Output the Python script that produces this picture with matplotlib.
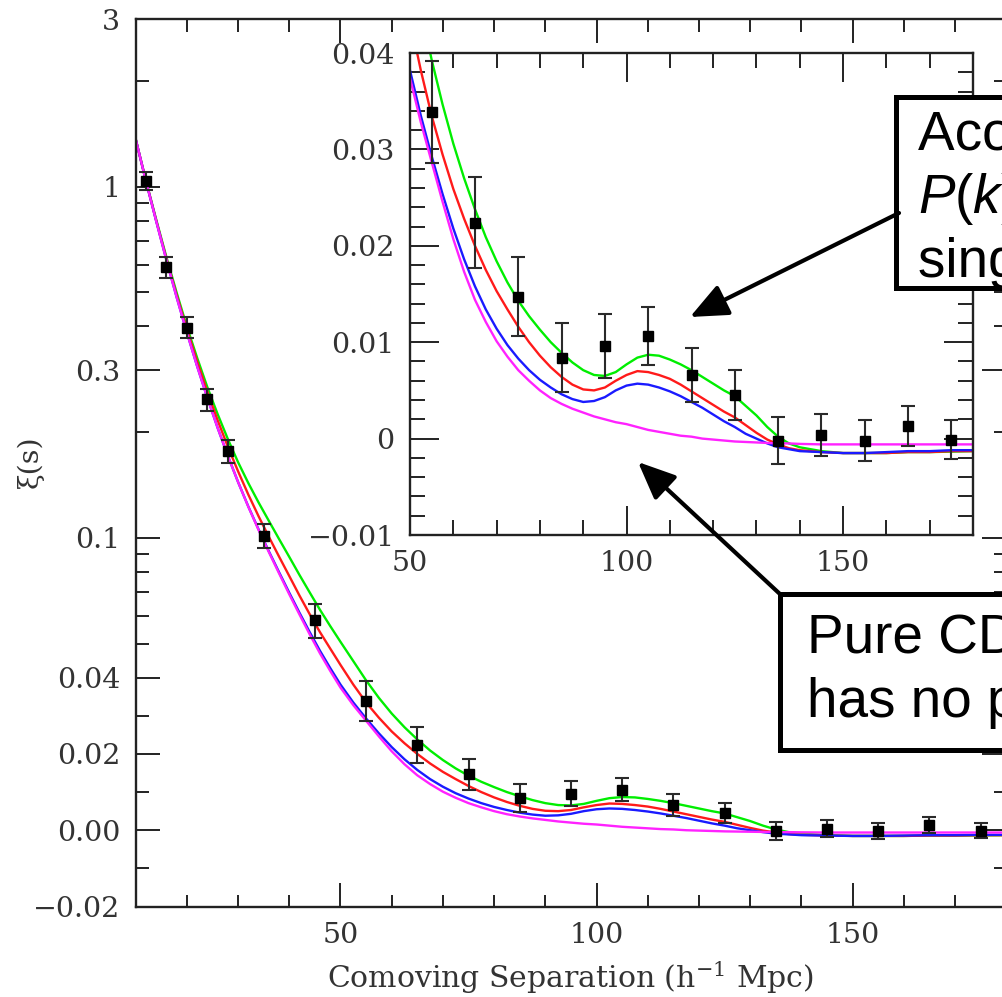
import numpy as np
import matplotlib
matplotlib.use("Agg")
import matplotlib.pyplot as plt
from matplotlib.patches import Rectangle
from matplotlib.ticker import FixedLocator, FixedFormatter, MultipleLocator

# ---------------- data ----------------
# Redshift-space correlation function of the LRG sample
sep_bins = [12, 16, 20, 24, 28, 35, 45, 55, 65, 75, 85, 95, 105, 115, 125,
            135, 145, 155, 165, 175]
xi_obs = [1.039, 0.589, 0.397, 0.248, 0.177, 0.1015, 0.0584, 0.0339, 0.0224,
          0.0147, 0.0084, 0.0096, 0.0106, 0.0066, 0.0045, -0.0002, 0.0004,
          -0.0002, 0.0013, -0.0001]
xi_err = [0.062, 0.040, 0.027, 0.018, 0.0135, 0.0082, 0.0065, 0.0053, 0.0047,
          0.0041, 0.0036, 0.0033, 0.0030, 0.0028, 0.0026, 0.0024, 0.0022,
          0.0021, 0.0021, 0.0020]

# Model curves sampled in separation
model_sep = [10, 12, 14, 16, 18, 20, 22, 24, 26, 28, 30, 32, 34, 36, 38, 40,
             42, 44, 46, 48,
             50, 52.5, 55, 57.5, 60, 62.5, 65, 67.5, 70, 72.5, 75, 77.5, 80,
             82.5, 85, 87.5, 90, 92.5, 95, 97.5, 100, 102.5, 105, 107.5, 110,
             112.5, 115, 117.5, 120, 122.5, 125, 127.5, 130, 132.5, 135,
             137.5, 140,
             145, 150, 155, 160, 165, 170, 175, 180]

xi_green = [1.368, 1.042, 0.8075, 0.631, 0.4996, 0.400, 0.326, 0.2688, 0.2254,
            0.1913, 0.1643, 0.1433, 0.1262, 0.1119, 0.0993, 0.0883, 0.0784,
            0.0699, 0.0624, 0.0561,
            0.0506, 0.0446, 0.0393, 0.0347, 0.0306, 0.0270, 0.0238, 0.0209,
            0.0184, 0.0162,
            0.0143, 0.0127, 0.0113, 0.0100, 0.0089, 0.0079, 0.0071, 0.0066,
            0.0065, 0.0069,
            0.0077, 0.0084, 0.0087, 0.0086, 0.0082, 0.0077, 0.0071, 0.0064,
            0.0057, 0.0050,
            0.0044, 0.0034, 0.0024, 0.0012, 0.0002, -0.0005, -0.0009,
            -0.0013, -0.0015, -0.0015, -0.0015, -0.0014, -0.0014, -0.00135,
            -0.0013]

xi_red = [1.368, 1.041, 0.8034, 0.625, 0.492, 0.393, 0.318, 0.2608, 0.2166,
          0.182, 0.1548, 0.1329, 0.1153, 0.1008, 0.0885, 0.0779, 0.0685,
          0.0606, 0.0539, 0.0484,
          0.0435, 0.0382, 0.0335, 0.0295, 0.0259, 0.0228, 0.0200, 0.0175,
          0.0153, 0.0134,
          0.0116, 0.0100, 0.0086, 0.0074, 0.0064, 0.0056, 0.0051, 0.0050,
          0.0053, 0.0060,
          0.0066, 0.0070, 0.0069, 0.0066, 0.0062, 0.0056, 0.0049, 0.0042,
          0.0035, 0.0028,
          0.0022, 0.0014, 0.0006, -0.0001, -0.0006, -0.0010, -0.0012,
          -0.0014, -0.0015, -0.0015, -0.0015, -0.0014, -0.0014, -0.0013,
          -0.0013]

xi_blue = [1.368, 1.039, 0.7995, 0.619, 0.485, 0.3845, 0.3085, 0.2506, 0.206,
           0.1714, 0.1443, 0.1229, 0.1058, 0.0917, 0.0799, 0.0698, 0.0612,
           0.0539, 0.0477, 0.0426,
           0.0382, 0.0335, 0.0293, 0.0254, 0.0218, 0.0186, 0.0158, 0.0134,
           0.0114, 0.0097,
           0.0083, 0.0071, 0.0061, 0.0053, 0.0046, 0.0041, 0.0038, 0.0039,
           0.0043, 0.0050,
           0.0055, 0.0057, 0.0056, 0.0053, 0.0049, 0.0044, 0.0038, 0.0032,
           0.0025, 0.0018,
           0.0012, 0.0005, 0.0000, -0.0005, -0.0009, -0.0011, -0.0013,
           -0.0014, -0.0015, -0.0015, -0.0014, -0.0013, -0.0013, -0.0012,
           -0.0012]

xi_magenta = [1.368, 1.039, 0.7995, 0.619, 0.485, 0.3845, 0.3085, 0.2506,
              0.206, 0.1714, 0.1443, 0.1227, 0.1054, 0.0912, 0.0793, 0.0691,
              0.0605, 0.0531, 0.0469, 0.0418,
              0.0374, 0.0328, 0.0287, 0.0246, 0.0207, 0.0173, 0.0144, 0.0121,
              0.0101, 0.0085,
              0.0071, 0.0060, 0.0050, 0.0042, 0.0036, 0.0031, 0.0027, 0.0023,
              0.0020, 0.0017,
              0.0015, 0.0012, 0.0009, 0.0007, 0.0005, 0.0003, 0.0002, 0.0000,
              -0.0001, -0.0002,
              -0.0003, -0.00035, -0.0004, -0.00045, -0.0005, -0.0005,
              -0.00055,
              -0.0006, -0.0006, -0.0006, -0.0006, -0.0006, -0.0006, -0.0006,
              -0.0006]

main_yticks = [-0.02, 0.0, 0.02, 0.04, 0.1, 0.3, 1, 3]
main_yticklabels = ["\u22120.02", "0.00", "0.02", "0.04", "0.1", "0.3", "1", "3"]
main_yminor = [-0.01, 0.01, 0.03, 0.05, 0.06, 0.07, 0.08, 0.09, 0.2, 0.4,
               0.5, 0.6, 0.7, 0.8, 0.9, 2]
inset_yticks = [-0.01, 0.0, 0.01, 0.02, 0.03, 0.04]
inset_yticklabels = ["\u22120.01", "0", "0.01", "0.02", "0.03", "0.04"]

# ---------------- styling ----------------
W, H = 1003, 997
plt.rcParams["font.family"] = ["DejaVu Serif"]
plt.rcParams["mathtext.fontset"] = "dejavuserif"
TICK_FS = 20.5

fig = plt.figure(figsize=(W / 100, H / 100), dpi=100)

Y0 = 0.04  # linear below this value, logarithmic above (C1 join)


def fwd(y):
    y = np.asarray(y, dtype=float)
    return np.where(y < Y0, y / Y0, 1.0 + np.log(np.maximum(y, Y0) / Y0))


def inv(u):
    u = np.asarray(u, dtype=float)
    return np.where(u < 1.0, u * Y0, Y0 * np.exp(np.maximum(u, 1.0) - 1.0))


def px_axes(left, top, right, bottom):
    return [left / W, 1 - bottom / H, (right - left) / W, (bottom - top) / H]


def style_ticks(ax, major_len, minor_len):
    ax.tick_params(which="both", direction="in", top=True, right=True,
                   width=1.4, colors="#222222", labelsize=TICK_FS,
                   labelcolor="#333333")
    ax.tick_params(which="major", length=major_len, pad=11)
    ax.tick_params(which="minor", length=minor_len)
    for s in ax.spines.values():
        s.set_linewidth(1.7)
        s.set_color("#222222")


curve_specs = [(xi_green, "#00ee00"), (xi_red, "#ff1a1a"),
               (xi_blue, "#1a1aff"), (xi_magenta, "#ff22ff")]

err_style = dict(fmt="s", ms=6.8, mfc="black", mec="black", ecolor="#2a2a2a",
                 elinewidth=1.5, capsize=5, capthick=1.5, zorder=5)

# ---------------- main panel ----------------
ax = fig.add_axes(px_axes(135.6, 19.0, 1006.3, 906.5))
ax.set_yscale("function", functions=(fwd, inv))
for ys, c in curve_specs:
    ax.plot(model_sep, ys, color=c, lw=1.7)
ax.errorbar(sep_bins, xi_obs, yerr=xi_err, **err_style)
ax.set_xlim(10, 180)
ax.set_ylim(-0.02, 3)
ax.yaxis.set_major_locator(FixedLocator(main_yticks))
ax.yaxis.set_major_formatter(FixedFormatter(main_yticklabels))
ax.yaxis.set_minor_locator(FixedLocator(main_yminor))
ax.xaxis.set_major_locator(FixedLocator([50, 100, 150]))
ax.xaxis.set_minor_locator(MultipleLocator(10))
style_ticks(ax, 17, 9)
ax.set_xlabel("Comoving Separation (h$^{-1}$ Mpc)", fontsize=21.5,
              color="#333333", labelpad=8)
fig.text(30 / W, 1 - 462 / H, "\u03be(s)", rotation=90, ha="center",
         va="center", fontsize=TICK_FS, color="#333333")

# ---------------- inset ----------------
axi = fig.add_axes(px_axes(410, 53, 973, 535))
axi.set_facecolor("white")
for ys, c in curve_specs:
    axi.plot(model_sep, ys, color=c, lw=1.7)
axi.errorbar(sep_bins, xi_obs, yerr=xi_err, **err_style)
axi.set_xlim(50, 180)
axi.set_ylim(-0.01, 0.04)
axi.yaxis.set_major_locator(FixedLocator(inset_yticks))
axi.yaxis.set_major_formatter(FixedFormatter(inset_yticklabels))
axi.yaxis.set_minor_locator(MultipleLocator(0.002))
axi.xaxis.set_major_locator(FixedLocator([50, 100, 150]))
axi.xaxis.set_minor_locator(MultipleLocator(10))
style_ticks(axi, 21, 10.5)

# ---------------- annotations ----------------
ov = fig.add_axes([0, 0, 1, 1], zorder=20)
ov.set_xlim(0, W)
ov.set_ylim(H, 0)
ov.axis("off")
ov.patch.set_alpha(0)

SANS = ["Liberation Sans", "DejaVu Sans"]
plt.rcParams["mathtext.fontset"] = "custom"
plt.rcParams["mathtext.it"] = "Liberation Sans:italic"
plt.rcParams["mathtext.rm"] = "Liberation Sans"
BOX_FS = 39.5

ov.add_patch(Rectangle((896, 97), 260, 191, facecolor="white",
                       edgecolor="black", lw=3.6, clip_on=False))
for line, base in [("Acoustic series in", 150), ("$P$($k$) becomes a", 213),
                   ("single peak in \u03be(r)", 277)]:
    ov.text(918, base, line, fontsize=BOX_FS, family=SANS, va="baseline",
            ha="left", color="black", clip_on=False)
arrow_style = dict(arrowstyle="-|>,head_length=1.15,head_width=0.5",
                   lw=3.0, color="black", mutation_scale=20,
                   shrinkA=0, shrinkB=0)
ov.annotate("", xy=(690, 317), xytext=(899, 213), arrowprops=arrow_style)

ov.add_patch(Rectangle((780, 594), 380, 156, facecolor="white",
                       edgecolor="black", lw=3.6, clip_on=False))
for line, base in [("Pure CDM model", 652), ("has no peak", 717)]:
    ov.text(807, base, line, fontsize=BOX_FS, family=SANS, va="baseline",
            ha="left", color="black", clip_on=False)
ov.annotate("", xy=(638, 462), xytext=(781, 595), arrowprops=arrow_style)

fig.savefig("out.png", dpi=100)
